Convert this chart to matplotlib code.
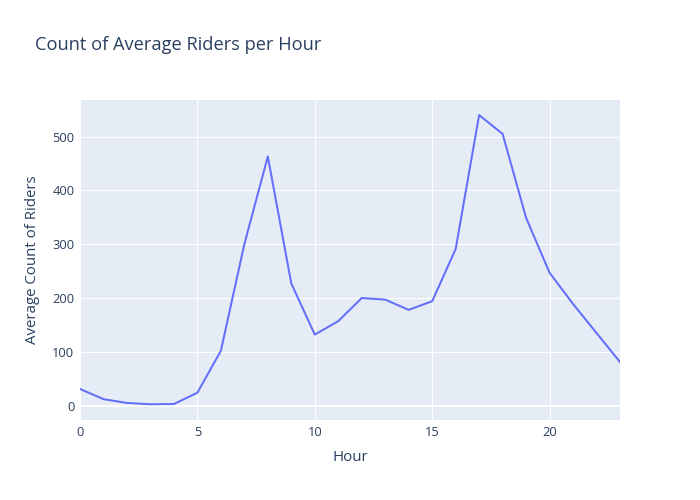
import matplotlib
matplotlib.use("Agg")
import matplotlib.pyplot as plt

plt.rcParams['font.family'] = ['Open Sans', 'DejaVu Sans']

hours = list(range(24))
riders = [31, 12, 5, 2.5, 3, 24, 102, 300, 463, 227, 132, 157,
          200, 197, 178, 194, 291, 540, 505, 349, 247, 189, 135, 81]

text_col = '#2a3f5f'
px = 0.72  # points per pixel at dpi 100
fs = 0.775  # font scale to match the browser rendering

fig = plt.figure(figsize=(7, 5), dpi=100)
ax = fig.add_axes([80 / 700, 80 / 500, 540 / 700, 320 / 500])
ax.set_facecolor('#E5ECF6')

ax.plot(hours, riders, color='#636EFA', lw=2 * px, zorder=3)

ax.set_xlim(0, 23)
ax.set_ylim(-26.7, 568)
ax.set_xticks([0, 5, 10, 15, 20])
ax.set_yticks([0, 100, 200, 300, 400, 500])
ax.grid(color='white', lw=1 * px, zorder=1)
ax.axhline(0, color='white', lw=2 * px, zorder=2)
ax.set_axisbelow(True)
for s in ax.spines.values():
    s.set_visible(False)
ax.tick_params(length=0, labelsize=12 * fs, colors=text_col, pad=4)

ax.set_xlabel('Hour', fontsize=14 * fs, color=text_col, labelpad=8)
ax.set_ylabel('Average Count of Riders', fontsize=14 * fs, color=text_col, labelpad=9)
fig.text(35 / 700, 1 - 45 / 500, 'Count of Average Riders per Hour',
         fontsize=17 * fs, color=text_col, va='center', ha='left')

fig.savefig('out.png', dpi=100)
